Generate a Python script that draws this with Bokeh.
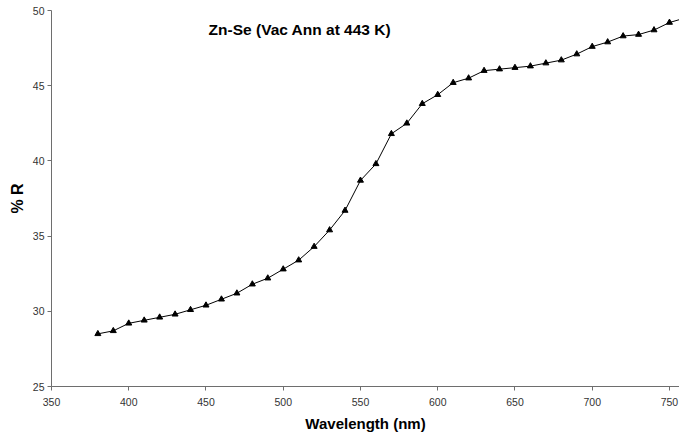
from bokeh.plotting import figure
from bokeh.models import Range1d, FixedTicker, Label
from bokeh.embed import file_html
from bokeh.resources import INLINE

# Data
wavelength = [380, 390, 400, 410, 420, 430, 440, 450, 460, 470,
              480, 490, 500, 510, 520, 530, 540, 550, 560, 570,
              580, 590, 600, 610, 620, 630, 640, 650, 660, 670,
              680, 690, 700, 710, 720, 730, 740, 750, 760]
reflectance = [28.5, 28.7, 29.2, 29.4, 29.6, 29.8, 30.1, 30.4, 30.8, 31.2,
               31.8, 32.2, 32.8, 33.4, 34.3, 35.4, 36.7, 38.7, 39.8, 41.8,
               42.5, 43.8, 44.4, 45.2, 45.5, 46.0, 46.1, 46.2, 46.3, 46.5,
               46.7, 47.1, 47.6, 47.9, 48.3, 48.4, 48.7, 49.2, 49.5]
x_ticks = [350, 400, 450, 500, 550, 600, 650, 700, 750]
y_ticks = [25, 30, 35, 40, 45, 50]
title_text = "Zn-Se (Vac Ann at 443 K)"
x_label = "Wavelength (nm)"
y_label = "% R"

FONT = "Liberation Sans"

p = figure(width=679, height=440, output_backend="svg", toolbar_location=None,
           x_range=Range1d(350, 756.5), y_range=Range1d(25, 50),
           min_border_left=51, min_border_right=0, min_border_top=10,
           min_border_bottom=54)
p.outline_line_color = None
p.background_fill_color = "white"
p.border_fill_color = "white"
p.xgrid.visible = False
p.ygrid.visible = False

p.line(wavelength, reflectance, line_color="black", line_width=1)
p.scatter(wavelength, reflectance, marker="triangle", size=6,
          fill_color="black", line_color="black")

for ax, ticks in ((p.xaxis[0], x_ticks), (p.yaxis[0], y_ticks)):
    ax.ticker = FixedTicker(ticks=ticks)
    ax.minor_tick_line_color = None
    ax.major_tick_in = 0
    ax.major_tick_out = 4
    ax.axis_line_color = "#6e6e6e"
    ax.major_tick_line_color = "#6e6e6e"
    ax.major_label_text_font = FONT
    ax.major_label_text_font_size = "10.5px"
    ax.major_label_text_color = "#333333"
    ax.axis_label_text_font = FONT
    ax.axis_label_text_font_style = "bold"
    ax.axis_label_text_color = "black"

p.xaxis.axis_label = x_label
p.xaxis.axis_label_text_font_size = "15px"
p.xaxis.major_label_standoff = 7
p.xaxis.axis_label_standoff = 6
p.yaxis.axis_label = y_label
p.yaxis.axis_label_text_font_size = "16px"
p.yaxis.major_label_standoff = 3
p.yaxis.axis_label_standoff = 4

p.add_layout(Label(x=510.8, y=48.74, text=title_text, text_align="center",
                   text_baseline="alphabetic", text_font=FONT,
                   text_font_size="15.5px", text_font_style="bold",
                   text_color="black"))

open("out.html", "w").write(file_html(p, INLINE))
